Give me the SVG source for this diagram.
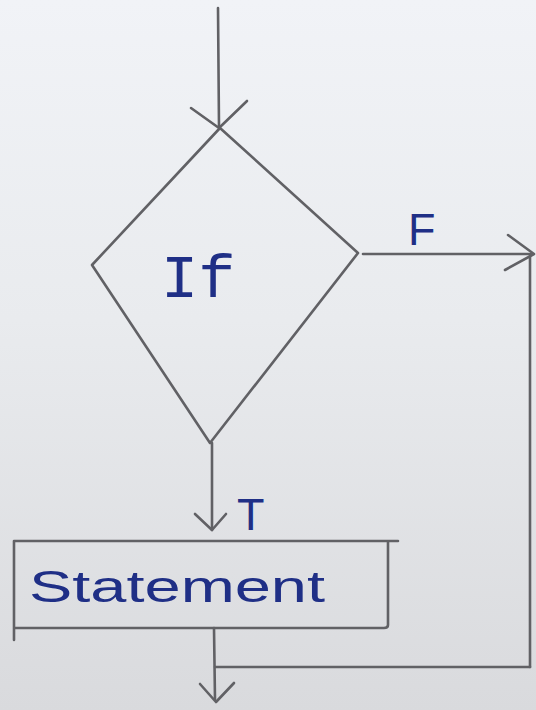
<svg xmlns="http://www.w3.org/2000/svg" width="536" height="710" viewBox="0 0 536 710">
<defs>
<linearGradient id="paper" x1="0" y1="0" x2="0" y2="1">
<stop offset="0" stop-color="#f1f3f7"/>
<stop offset="0.45" stop-color="#e9ebee"/>
<stop offset="1" stop-color="#d9dadd"/>
</linearGradient>
</defs>
<style>
.ln{fill:none;stroke:#616165;stroke-width:2.6;stroke-linecap:round;stroke-linejoin:round}
.lbl{fill:#1f2f86;font-family:"Liberation Sans",Arial,sans-serif}
.mono{fill:#1f2f86;font-family:"Liberation Mono","DejaVu Sans Mono",monospace}
</style>
<rect x="0" y="0" width="536" height="710" fill="url(#paper)"/>
<g id="connectors">
<path class="ln" d="M218 8 L219 127"/>
<path class="ln" d="M191 108 L219 128 L247 101"/>
<path class="ln" d="M363 254 L532 254"/>
<path class="ln" d="M508 235 L534 254 L505 270"/>
<path class="ln" d="M530 256 L530 667"/>
<path class="ln" d="M212 443 L212 530"/>
<path class="ln" d="M195 514 L212 530 L226 514"/>
<path class="ln" d="M214 628 L215 700"/>
<path class="ln" d="M215 667 L530 667"/>
<path class="ln" d="M200 684 L216 702 L234 683"/>
</g>
<g id="label-F"><text class="lbl" x="408" y="245" font-size="45">F</text></g>
<g id="label-T"><text class="lbl" x="237" y="530" font-size="45">T</text></g>
<g id="node-if">
<path class="ln" d="M220 128 L358 253 L210 443 L92 265 Z"/>
<text class="mono" x="161" y="297" font-size="62">If</text>
</g>
<g id="node-statement">
<path class="ln" d="M14 541 L398 541 M388 541 L388 625 Q388 628 384 628 L14 628 M14 541 L14 640"/>
<text class="lbl" x="29" y="602" font-size="44" textLength="296" lengthAdjust="spacingAndGlyphs">Statement</text>
</g>
</svg>
